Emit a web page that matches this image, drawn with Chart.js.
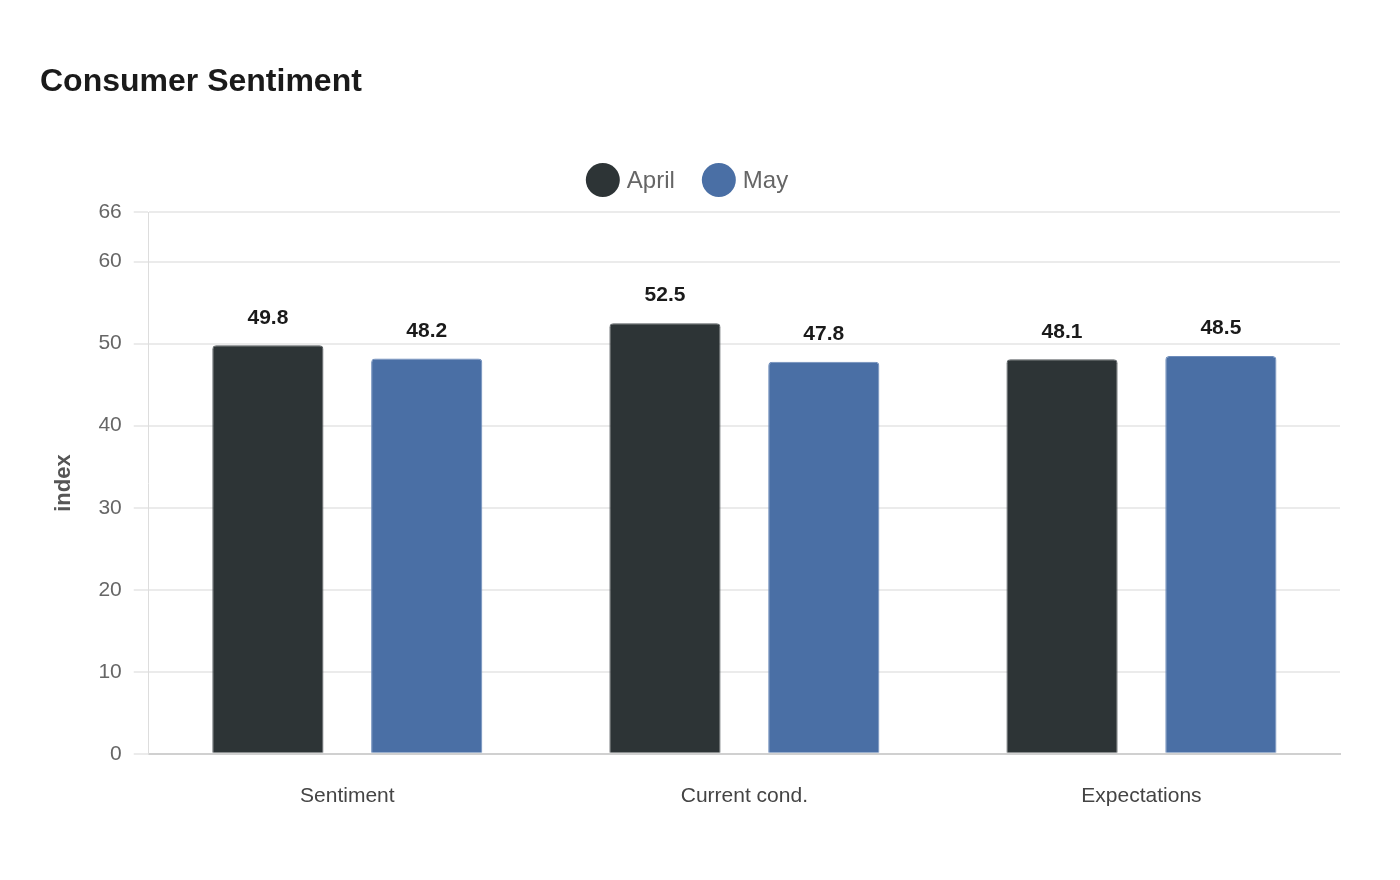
<!DOCTYPE html>
<html>
<head>
<meta charset="utf-8">
<script src="https://cdn.jsdelivr.net/npm/chart.js@4"></script>
<style>
html,body{margin:0;padding:0;background:#fff;}
#wrap{width:1400px;height:880px;position:relative;}
</style>
</head>
<body>
<div id="wrap"><canvas id="c"></canvas></div>
<script>
const categories = ["Sentiment", "Current cond.", "Expectations"];
const aprilValues = [49.8, 52.5, 48.1];
const mayValues = [48.2, 47.8, 48.5];
const seriesNames = ["April", "May"];
const seriesColors = ["#2d3436", "#4a6fa5"];
const yTicks = [0, 10, 20, 30, 40, 50, 60, 66];

const FONT = "'Liberation Sans', Arial, sans-serif";

const valueLabels = {
  id: 'valueLabels',
  afterDatasetsDraw(chart) {
    const ctx = chart.ctx;
    ctx.save();
    ctx.font = "bold 21px " + FONT;
    ctx.fillStyle = "#1a1a1a";
    ctx.textAlign = "center";
    ctx.textBaseline = "bottom";
    chart.data.datasets.forEach((ds, i) => {
      const meta = chart.getDatasetMeta(i);
      meta.data.forEach((bar, j) => {
        ctx.fillText(ds.data[j].toFixed(1), bar.x, bar.y - 17);
      });
    });
    ctx.restore();
  }
};

// Legend drawn from the datasets (circle markers, centred above the plot)
const circleLegend = {
  id: 'circleLegend',
  afterDraw(chart) {
    const ctx = chart.ctx;
    const r = 17, textGap = 7, itemGap = 27, cy = 180;
    ctx.save();
    ctx.font = "24px " + FONT;
    const items = chart.data.datasets.map(ds => ({ text: ds.label, color: ds.backgroundColor, w: ctx.measureText(ds.label).width }));
    let total = 0;
    items.forEach((it, i) => { total += 2 * r + textGap + it.w + (i < items.length - 1 ? itemGap : 0); });
    let x = 687 - total / 2;
    items.forEach(it => {
      ctx.beginPath();
      ctx.fillStyle = it.color;
      ctx.arc(x + r, cy, r, 0, Math.PI * 2);
      ctx.fill();
      ctx.fillStyle = '#666';
      ctx.textAlign = 'left';
      ctx.textBaseline = 'middle';
      ctx.fillText(it.text, x + 2 * r + textGap, cy + 1);
      x += 2 * r + textGap + it.w + itemGap;
    });
    ctx.restore();
  }
};

new Chart(document.getElementById('c'), {
  type: 'bar',
  data: {
    labels: categories,
    datasets: [
      { label: seriesNames[0], data: aprilValues, backgroundColor: seriesColors[0], borderColor: '#555b5e', borderWidth: 1, borderRadius: 4, borderSkipped: 'bottom' },
      { label: seriesNames[1], data: mayValues, backgroundColor: seriesColors[1], borderColor: '#6d8cbb', borderWidth: 1, borderRadius: 4, borderSkipped: 'bottom' }
    ]
  },
  plugins: [valueLabels, circleLegend],
  options: {
    responsive: true,
    maintainAspectRatio: false,
    animation: false,
    devicePixelRatio: 1,
    layout: { padding: { left: 40, right: 60, top: 63, bottom: 41 } },
    datasets: { bar: { categoryPercentage: 0.8, barPercentage: 0.7 } },
    plugins: {
      title: {
        display: true, text: 'Consumer Sentiment', align: 'start',
        color: '#1a1a1a', font: { family: FONT, size: 32, weight: 'bold' },
        padding: { top: 0, bottom: 111 }
      },
      legend: { display: false },
      tooltip: { enabled: false }
    },
    scales: {
      x: {
        grid: { display: false, drawTicks: false },
        border: { display: true, color: '#d0d0d0', width: 2 },
        ticks: { color: '#444', font: { family: FONT, size: 21 }, padding: 30 }
      },
      y: {
        min: 0, max: 66,
        afterBuildTicks(axis) { axis.ticks = yTicks.map(v => ({ value: v })); },
        grid: { color: '#ebebeb', lineWidth: 2, tickLength: 15 },
        border: { display: true, color: '#dddddd', width: 1 },
        ticks: { color: '#666', font: { family: FONT, size: 21 }, padding: 12 },
        title: { display: true, text: 'index', color: '#555', font: { family: FONT, size: 22, weight: 'bold' }, padding: { top: 11, bottom: 9 } }
      }
    }
  }
});
</script>
</body>
</html>
